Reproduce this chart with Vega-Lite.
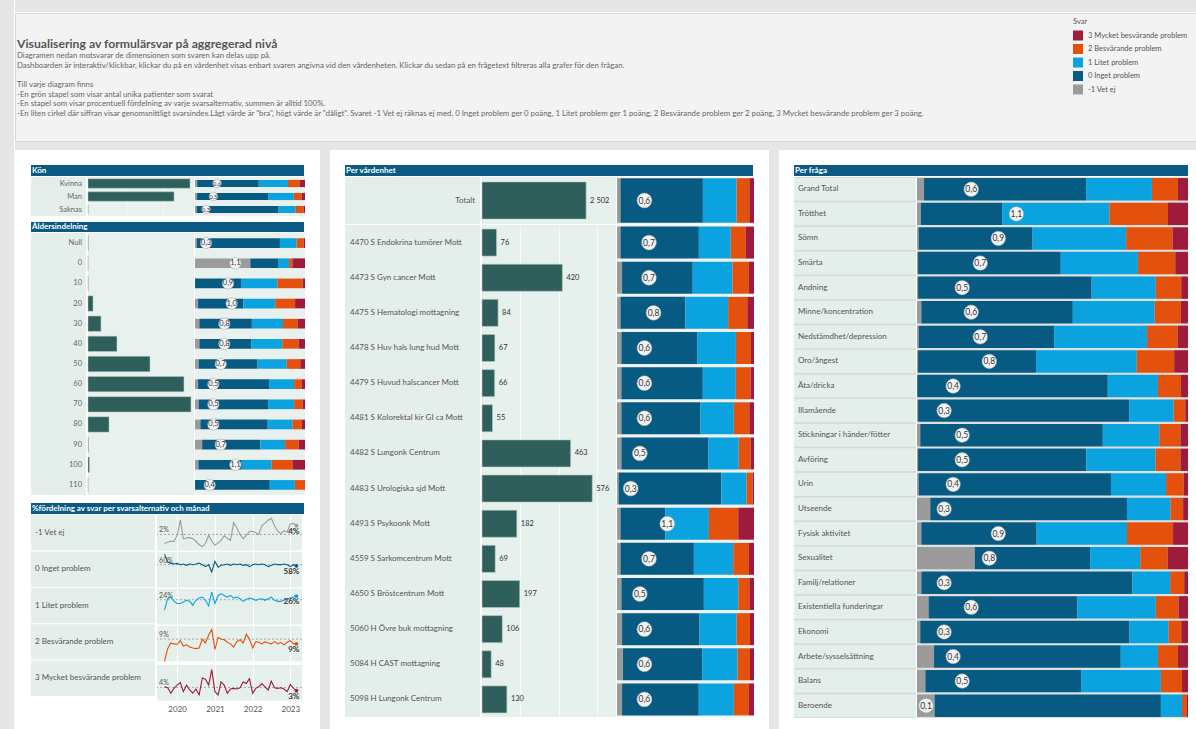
{
"$schema":"https://vega.github.io/schema/vega-lite/v6.json",
"padding":0,
"background":"white",
"spacing":0,
"config":{
 "font":"Lato",
 "view":{"stroke":null},
 "axis":{"domain":false,"ticks":false,"labelFont":"Lato"},
 "legend":{"orient":"none","legendX":1073,"legendY":18,"padding":0,"titleFontSize":7.5,"titleFontWeight":"normal","titleColor":"#555","titleFont":"Lato","labelFont":"Lato","labelFontSize":7.5,"labelColor":"#555","symbolType":"square","symbolSize":100,"symbolStrokeWidth":0,"symbolOpacity":1,"rowPadding":3.5,"titlePadding":5,"labelOffset":5},
 "locale":{"number":{"decimal":",","thousands":" ","grouping":[3],"currency":["","%"]}}
},
"datasets":{
 "head":[
  {"i":0,"t":"Visualisering av formulärsvar på aggregerad nivå"},
  {"i":1,"t":"Diagramen nedan motsvarar de dimensionen som svaren kan delas upp på."},
  {"i":2,"t":"Dashboarden är interaktiv/klickbar, klickar du på en vårdenhet visas enbart svaren angivna vid den vårdenheten. Klickar du sedan på en frågetext filtreras alla grafer för den frågan."},
  {"i":4,"t":"Till varje diagram finns"},
  {"i":5,"t":"-En grön stapel som visar antal unika patienter som svarat"},
  {"i":6,"t":"-En stapel som visar procentuell fördelning av varje svarsalternativ, summen är alltid 100%."},
  {"i":7,"t":"-En liten cirkel där siffran visar genomsnittligt svarsindex.Lågt värde är \"bra\", högt värde är \"dåligt\". Svaret -1 Vet ej räknas ej med, 0 Inget problem ger 0 poäng, 1 Litet problem ger 1 poäng, 2 Besvärande problem ger 2 poäng, 3 Mycket besvärande problem ger 3 poäng."}
 ],
 "kon":[
  {"g":"Kvinna","n":1357,"idx":0.6,"m1":0.02,"p0":0.56,"p1":0.265,"p2":0.108,"p3":0.047},
  {"g":"Man","n":1145,"idx":0.5,"m1":0.019,"p0":0.654,"p1":0.23,"p2":0.072,"p3":0.031},
  {"g":"Saknas","n":3,"idx":0.3,"m1":0.015,"p0":0.745,"p1":0.156,"p2":0.072,"p3":0.012}
 ],
 "alder":[
  {"g":"Null","n":3,"idx":0.3,"m1":0.018,"p0":0.754,"p1":0.151,"p2":0.065,"p3":0.012},
  {"g":"0","n":1,"idx":1.1,"m1":0.5,"p0":0.25,"p1":0.1,"p2":0.03,"p3":0.114},
  {"g":"10","n":2,"idx":0.9,"m1":0,"p0":0.418,"p1":0.33,"p2":0.23,"p3":0.022},
  {"g":"20","n":38,"idx":1.0,"m1":0.028,"p0":0.41,"p1":0.29,"p2":0.18,"p3":0.09},
  {"g":"30","n":98,"idx":0.8,"m1":0.04,"p0":0.477,"p1":0.283,"p2":0.132,"p3":0.068},
  {"g":"40","n":219,"idx":0.8,"m1":0.04,"p0":0.47,"p1":0.283,"p2":0.148,"p3":0.058},
  {"g":"50","n":469,"idx":0.7,"m1":0.034,"p0":0.535,"p1":0.265,"p2":0.123,"p3":0.043},
  {"g":"60","n":726,"idx":0.5,"m1":0.028,"p0":0.646,"p1":0.228,"p2":0.071,"p3":0.028},
  {"g":"70","n":779,"idx":0.5,"m1":0.034,"p0":0.63,"p1":0.237,"p2":0.077,"p3":0.022},
  {"g":"80","n":159,"idx":0.5,"m1":0.049,"p0":0.612,"p1":0.225,"p2":0.086,"p3":0.028},
  {"g":"90","n":4,"idx":0.7,"m1":0.065,"p0":0.53,"p1":0.225,"p2":0.123,"p3":0.058},
  {"g":"100","n":11,"idx":1.1,"m1":0.031,"p0":0.394,"p1":0.27,"p2":0.19,"p3":0.114},
  {"g":"110","n":1,"idx":0.4,"m1":0,"p0":0.68,"p1":0.228,"p2":0.092,"p3":0}
 ],
 "tot":[
  {"g":"Totalt","n":2502,"idx":0.6,"m1":0.025,"p0":0.602,"p1":0.246,"p2":0.093,"p3":0.034}
 ],
 "enh":[
  {"g":"4470 S Endokrina tumörer Mott","n":76,"idx":0.7,"m1":0.025,"p0":0.572,"p1":0.233,"p2":0.11,"p3":0.059},
  {"g":"4473 S Gyn cancer Mott","n":420,"idx":0.7,"m1":0.037,"p0":0.516,"p1":0.29,"p2":0.12,"p3":0.037},
  {"g":"4475 S Hematologi mottagning","n":84,"idx":0.8,"m1":0.025,"p0":0.474,"p1":0.312,"p2":0.14,"p3":0.049},
  {"g":"4478 S Huv hals lung hud Mott","n":67,"idx":0.6,"m1":0.032,"p0":0.553,"p1":0.283,"p2":0.11,"p3":0.022},
  {"g":"4479 S Huvud halscancer Mott","n":66,"idx":0.6,"m1":0.032,"p0":0.595,"p1":0.241,"p2":0.108,"p3":0.025},
  {"g":"4481 S Kolorektal kir GI ca Mott","n":55,"idx":0.6,"m1":0.032,"p0":0.577,"p1":0.243,"p2":0.113,"p3":0.034},
  {"g":"4482 S Lungonk Centrum","n":463,"idx":0.5,"m1":0.032,"p0":0.636,"p1":0.221,"p2":0.086,"p3":0.025},
  {"g":"4483 S Urologiska sjd Mott","n":576,"idx":0.3,"m1":0.012,"p0":0.749,"p1":0.184,"p2":0.044,"p3":0.01},
  {"g":"4493 S Psykoonk Mott","n":182,"idx":1.1,"m1":0.025,"p0":0.327,"p1":0.319,"p2":0.214,"p3":0.115},
  {"g":"4559 S Sarkomcentrum Mott","n":69,"idx":0.7,"m1":0.025,"p0":0.536,"p1":0.287,"p2":0.115,"p3":0.037},
  {"g":"4650 S Bröstcentrum Mott","n":197,"idx":0.5,"m1":0.032,"p0":0.602,"p1":0.251,"p2":0.081,"p3":0.034},
  {"g":"5060 H Övre buk mottagning","n":106,"idx":0.6,"m1":0.037,"p0":0.565,"p1":0.27,"p2":0.098,"p3":0.029},
  {"g":"5084 H CAST mottagning","n":48,"idx":0.6,"m1":0.044,"p0":0.577,"p1":0.258,"p2":0.091,"p3":0.029},
  {"g":"5098 H Lungonk Centrum","n":130,"idx":0.6,"m1":0.037,"p0":0.56,"p1":0.256,"p2":0.11,"p3":0.037}
 ],
 "fraga":[
  {"g":"Grand Total","idx":0.6,"m1":0.026,"p0":0.598,"p1":0.243,"p2":0.096,"p3":0.037},
  {"g":"Trötthet","idx":1.1,"m1":0.014,"p0":0.3,"p1":0.396,"p2":0.216,"p3":0.074},
  {"g":"Sömn","idx":0.9,"m1":0.006,"p0":0.42,"p1":0.345,"p2":0.171,"p3":0.057},
  {"g":"Smärta","idx":0.7,"m1":0.004,"p0":0.527,"p1":0.285,"p2":0.138,"p3":0.047},
  {"g":"Andning","idx":0.5,"m1":0.004,"p0":0.641,"p1":0.237,"p2":0.094,"p3":0.025},
  {"g":"Minne/koncentration","idx":0.6,"m1":0.016,"p0":0.559,"p1":0.302,"p2":0.097,"p3":0.026},
  {"g":"Nedstämdhet/depression","idx":0.7,"m1":0.006,"p0":0.5,"p1":0.343,"p2":0.113,"p3":0.038},
  {"g":"Oro/ångest","idx":0.8,"m1":0.004,"p0":0.435,"p1":0.372,"p2":0.138,"p3":0.051},
  {"g":"Äta/dricka","idx":0.4,"m1":0.001,"p0":0.703,"p1":0.185,"p2":0.085,"p3":0.026},
  {"g":"Illamående","idx":0.3,"m1":0.004,"p0":0.779,"p1":0.164,"p2":0.043,"p3":0.01},
  {"g":"Stickningar i händer/fötter","idx":0.5,"m1":0.012,"p0":0.673,"p1":0.208,"p2":0.078,"p3":0.028},
  {"g":"Avföring","idx":0.5,"m1":0.004,"p0":0.62,"p1":0.255,"p2":0.092,"p3":0.028},
  {"g":"Urin","idx":0.4,"m1":0.006,"p0":0.709,"p1":0.203,"p2":0.065,"p3":0.016},
  {"g":"Utseende","idx":0.3,"m1":0.049,"p0":0.725,"p1":0.16,"p2":0.047,"p3":0.018},
  {"g":"Fysisk aktivitet","idx":0.9,"m1":0.016,"p0":0.425,"p1":0.333,"p2":0.17,"p3":0.055},
  {"g":"Sexualitet","idx":0.8,"m1":0.213,"p0":0.425,"p1":0.185,"p2":0.101,"p3":0.075},
  {"g":"Familj/relationer","idx":0.3,"m1":0.016,"p0":0.779,"p1":0.139,"p2":0.052,"p3":0.014},
  {"g":"Existentiella funderingar","idx":0.6,"m1":0.043,"p0":0.549,"p1":0.29,"p2":0.084,"p3":0.035},
  {"g":"Ekonomi","idx":0.3,"m1":0.012,"p0":0.772,"p1":0.144,"p2":0.047,"p3":0.025},
  {"g":"Arbete/sysselsättning","idx":0.4,"m1":0.063,"p0":0.689,"p1":0.137,"p2":0.074,"p3":0.037},
  {"g":"Balans","idx":0.5,"m1":0.031,"p0":0.575,"p1":0.295,"p2":0.078,"p3":0.022},
  {"g":"Beroende","idx":0.1,"m1":0.065,"p0":0.835,"p1":0.078,"p2":0.018,"p3":0.004}
 ],
 "lines":[
  {"d":"2019-09-01","m1":1.16,"p0":70.8,"p1":19.1,"p2":5.55,"p3":3.8},
  {"d":"2019-10-01","m1":1.33,"p0":62.4,"p1":24.7,"p2":7.75,"p3":3.65},
  {"d":"2019-11-01","m1":1.51,"p0":61.0,"p1":25.5,"p2":8.74,"p3":2.8},
  {"d":"2019-12-01","m1":1.42,"p0":60.3,"p1":23.4,"p2":8.58,"p3":3.55},
  {"d":"2020-01-01","m1":2.27,"p0":61.0,"p1":22.3,"p2":8.47,"p3":4.05},
  {"d":"2020-02-01","m1":4.35,"p0":59.6,"p1":22.3,"p2":9.13,"p3":4.45},
  {"d":"2020-03-01","m1":1.82,"p0":60.3,"p1":23.1,"p2":8.19,"p3":3.05},
  {"d":"2020-04-01","m1":1.91,"p0":58.9,"p1":23.9,"p2":8.41,"p3":4.05},
  {"d":"2020-05-01","m1":1.96,"p0":60.3,"p1":23.4,"p2":8.03,"p3":3.3},
  {"d":"2020-06-01","m1":1.82,"p0":59.6,"p1":21.5,"p2":7.86,"p3":2.8},
  {"d":"2020-07-01","m1":1.47,"p0":60.3,"p1":23.9,"p2":7.75,"p3":3.45},
  {"d":"2020-08-01","m1":1.02,"p0":61.4,"p1":25.0,"p2":7.86,"p3":2.55},
  {"d":"2020-09-01","m1":0.71,"p0":59.6,"p1":25.5,"p2":9.4,"p3":5.15},
  {"d":"2020-10-01","m1":1.16,"p0":57.5,"p1":23.9,"p2":8.74,"p3":4.95},
  {"d":"2020-11-01","m1":2.27,"p0":59.6,"p1":21.2,"p2":10.06,"p3":4.05},
  {"d":"2020-12-01","m1":1.51,"p0":51.9,"p1":27.9,"p2":11.05,"p3":6.45},
  {"d":"2021-01-01","m1":0.93,"p0":63.1,"p1":22.3,"p2":7.64,"p3":3.05},
  {"d":"2021-02-01","m1":1.25,"p0":56.8,"p1":26.3,"p2":9.68,"p3":2.55},
  {"d":"2021-03-01","m1":1.6,"p0":58.9,"p1":27.1,"p2":9.4,"p3":4.55},
  {"d":"2021-04-01","m1":2.22,"p0":59.6,"p1":26.3,"p2":9.29,"p3":4.05},
  {"d":"2021-05-01","m1":1.87,"p0":60.3,"p1":25.5,"p2":8.85,"p3":2.8},
  {"d":"2021-06-01","m1":1.6,"p0":58.9,"p1":26.3,"p2":8.58,"p3":3.45},
  {"d":"2021-07-01","m1":4.04,"p0":60.3,"p1":25.0,"p2":8.03,"p3":3.55},
  {"d":"2021-08-01","m1":3.29,"p0":59.6,"p1":25.5,"p2":8.96,"p3":3.45},
  {"d":"2021-09-01","m1":2.4,"p0":60.3,"p1":24.7,"p2":9.29,"p3":3.65},
  {"d":"2021-10-01","m1":1.82,"p0":58.9,"p1":23.4,"p2":8.74,"p3":4.55},
  {"d":"2021-11-01","m1":2.27,"p0":59.6,"p1":24.4,"p2":10.23,"p3":4.3},
  {"d":"2021-12-01","m1":2.8,"p0":57.5,"p1":25.0,"p2":9.4,"p3":5.05},
  {"d":"2022-01-01","m1":2.84,"p0":59.6,"p1":24.7,"p2":7.86,"p3":2.8},
  {"d":"2022-02-01","m1":2.62,"p0":60.3,"p1":23.9,"p2":8.96,"p3":3.55},
  {"d":"2022-03-01","m1":2.4,"p0":59.6,"p1":24.4,"p2":8.85,"p3":3.8},
  {"d":"2022-04-01","m1":3.6,"p0":60.3,"p1":24.7,"p2":8.58,"p3":4.3},
  {"d":"2022-05-01","m1":3.95,"p0":59.6,"p1":23.9,"p2":8.96,"p3":3.8},
  {"d":"2022-06-01","m1":4.35,"p0":57.5,"p1":24.7,"p2":8.74,"p3":3.3},
  {"d":"2022-07-01","m1":4.62,"p0":58.9,"p1":25.5,"p2":8.58,"p3":4.65},
  {"d":"2022-08-01","m1":3.6,"p0":60.3,"p1":23.9,"p2":8.96,"p3":3.65},
  {"d":"2022-09-01","m1":2.84,"p0":59.6,"p1":23.4,"p2":8.58,"p3":3.55},
  {"d":"2022-10-01","m1":2.49,"p0":59.6,"p1":23.4,"p2":8.85,"p3":3.65},
  {"d":"2022-11-01","m1":2.93,"p0":60.3,"p1":23.9,"p2":8.41,"p3":3.45},
  {"d":"2022-12-01","m1":2.71,"p0":59.6,"p1":24.7,"p2":8.85,"p3":3.05},
  {"d":"2023-01-01","m1":3.82,"p0":57.5,"p1":25.0,"p2":9.13,"p3":4.15},
  {"d":"2023-02-01","m1":3.91,"p0":59.6,"p1":25.5,"p2":8.58,"p3":3.55},
  {"d":"2023-03-01","t":"end","m1":3.6,"p0":58.4,"p1":26.0,"p2":8.58,"p3":3.2},
  {"d":"2019-07-10","t":"ref","m1":2.4,"p0":59.6,"p1":24.2,"p2":9.4,"p3":3.7},
  {"d":"2021-01-01","t":"lo","m1":0.22,"p0":35.1,"p1":12.04,"p2":5.66,"p3":1.7},
  {"d":"2021-01-01","t":"hi","m1":5.06,"p0":73.25,"p1":29.48,"p2":11.66,"p3":7.15}
 ]
},
"hconcat":[
 {"width":14,"height":729,"data":{"values":[{}]},"mark":{"type":"text","text":"","fontSize":0},"view":{"fill":"#e6e6e6","stroke":null}},
 {"spacing":0,"vconcat":[
  {"width":1182,"height":12,"data":{"values":[{}]},"mark":{"type":"text","text":"","fontSize":0},"view":{"fill":"#e6e6e6","stroke":null}},
  {"width":1182,"height":128,"data":{"name":"head"},"view":{"fill":"#f3f3f3","stroke":"#d6d6d6"},
   "encoding":{"x":{"datum":0,"type":"quantitative","scale":{"domain":[0,1]},"axis":null},
     "y":{"field":"i","type":"quantitative","scale":{"domain":[0,7],"range":[33.3,101]},"axis":null},
     "text":{"field":"t"}},
   "layer":[
    {"transform":[{"filter":"datum.i == 0"}],"mark":{"type":"text","align":"left","dx":2,"dy":-2,"fontSize":12.2,"fontWeight":"bold","color":"#555"}},
    {"transform":[{"filter":"datum.i > 0"}],"mark":{"type":"text","align":"left","dx":2,"fontSize":7.8,"color":"#666"}}
   ]},
  {"width":1182,"height":8,"data":{"values":[{}]},"mark":{"type":"text","text":"","fontSize":0},"view":{"fill":"#e6e6e6","stroke":null}},
  {"spacing":15,"hconcat":[
   {"width":1,"height":1,"data":{"values":[{}]},"mark":{"type":"text","text":"","fontSize":0}},
   {"spacing":1,"vconcat":[
    {"width":273,"height":14,"data":{"values":[{}]},"mark":{"type":"text","text":"","fontSize":0}},
    {"width":273,"height":11,"data":{"values":[{"t":"Kön"}]},"view":{"fill":"#0b5a84","stroke":null},"mark":{"type":"text","align":"left","dx":1,"fontSize":8,"fontWeight":"bold","color":"white"},"encoding":{"x":{"datum":0,"type":"quantitative","scale":{"domain":[0,1]},"axis":null},"text":{"field":"t"}}},
    {"spacing":1,"hconcat":[
     {"width":55,"height":39,"data":{"name":"kon"},"view":{"fill":"#e4eeeb","stroke":null},
      "mark":{"type":"text","align":"right","dx":-4,"fontSize":7.5,"color":"#666"},
      "encoding":{"y":{"field":"g","type":"nominal","sort":null,"axis":null},"x":{"datum":1,"type":"quantitative","scale":{"domain":[0,1]},"axis":null},"text":{"field":"g"}}},
     {"width":106,"height":39,"data":{"name":"kon"},"view":{"fill":"#e8f1ee","stroke":null},
      "mark":{"type":"bar","color":"#2f5f5a","height":{"band":0.72},"stroke":"#b8cbc7","strokeWidth":0.5},
      "encoding":{"y":{"field":"g","type":"nominal","sort":null,"axis":null,"scale":{"paddingInner":0,"paddingOuter":0}},
        "x":{"field":"n","type":"quantitative","scale":{"domain":[0,1410]},"axis":{"grid":true,"gridColor":"#f6f9f8","values":[500,1000],"labels":false,"title":null}}}},
     {"width":110,"height":39,"data":{"name":"kon"},"view":{"fill":"#e8f1ee","stroke":null},
      "encoding":{"y":{"field":"g","type":"nominal","sort":null,"axis":null,"scale":{"paddingInner":0,"paddingOuter":0}}},
      "layer":[
       {"transform":[{"fold":["m1","p0","p1","p2","p3"],"as":["svar","p"]}],"mark":{"type":"bar","height":{"band":0.55}},
        "encoding":{"x":{"field":"p","type":"quantitative","stack":"normalize","axis":null},
         "color":{"field":"svar","type":"nominal","title":"Svar","scale":{"domain":["p3","p2","p1","p0","m1"],"range":["#9e1b3b","#e3510d","#0aa3df","#075b83","#9b9b9b"]},"legend":{"labelExpr":"datum.value=='p3'?'3 Mycket besvärande problem':datum.value=='p2'?'2 Besvärande problem':datum.value=='p1'?'1 Litet problem':datum.value=='p0'?'0 Inget problem':'-1 Vet ej'"}},
         "order":{"field":"svar","type":"ordinal","sort":"ascending"}}},
       {"mark":{"type":"circle","size":75,"color":"#f3f3f3","opacity":1,"stroke":"#a0a8a6","strokeWidth":0.5},"encoding":{"x":{"field":"idx","type":"quantitative","scale":{"domain":[0,3]},"axis":null}}},
       {"mark":{"type":"text","fontSize":6,"color":"#333"},"encoding":{"x":{"field":"idx","type":"quantitative","scale":{"domain":[0,3]},"axis":null},"text":{"field":"idx","type":"quantitative","format":".1f"}}}
      ],
      "resolve":{"scale":{"x":"independent"}}}
    ]},
    {"width":273,"height":4,"data":{"values":[{}]},"mark":{"type":"text","text":"","fontSize":0}},
    {"width":273,"height":10,"data":{"values":[{"t":"Åldersindelning"}]},"view":{"fill":"#0b5a84","stroke":null},"mark":{"type":"text","align":"left","dx":1,"fontSize":8,"fontWeight":"bold","color":"white"},"encoding":{"x":{"datum":0,"type":"quantitative","scale":{"domain":[0,1]},"axis":null},"text":{"field":"t"}}},
    {"spacing":1,"hconcat":[
     {"width":55,"height":262,"data":{"name":"alder"},"view":{"fill":"#e4eeeb","stroke":null},
      "mark":{"type":"text","align":"right","dx":-4,"fontSize":7.5,"color":"#666"},
      "encoding":{"y":{"field":"g","type":"nominal","sort":null,"axis":null},"x":{"datum":1,"type":"quantitative","scale":{"domain":[0,1]},"axis":null},"text":{"field":"g"}}},
     {"width":106,"height":262,"data":{"name":"alder"},"view":{"fill":"#e8f1ee","stroke":null},
      "mark":{"type":"bar","color":"#2f5f5a","height":{"band":0.76},"stroke":"#b8cbc7","strokeWidth":0.5},
      "encoding":{"y":{"field":"g","type":"nominal","sort":null,"axis":null,"scale":{"paddingInner":0,"paddingOuter":0}},
        "x":{"field":"n","type":"quantitative","scale":{"domain":[0,802]},"axis":null}}},
     {"width":110,"height":262,"data":{"name":"alder"},"view":{"fill":"#e8f1ee","stroke":null},
      "encoding":{"y":{"field":"g","type":"nominal","sort":null,"axis":null,"scale":{"paddingInner":0,"paddingOuter":0}}},
      "layer":[
       {"transform":[{"fold":["m1","p0","p1","p2","p3"],"as":["svar","p"]}],"mark":{"type":"bar","height":{"band":0.48}},
        "encoding":{"x":{"field":"p","type":"quantitative","stack":"normalize","axis":null},
         "color":{"field":"svar","type":"nominal","title":"Svar","scale":{"domain":["p3","p2","p1","p0","m1"],"range":["#9e1b3b","#e3510d","#0aa3df","#075b83","#9b9b9b"]},"legend":{"labelExpr":"datum.value=='p3'?'3 Mycket besvärande problem':datum.value=='p2'?'2 Besvärande problem':datum.value=='p1'?'1 Litet problem':datum.value=='p0'?'0 Inget problem':'-1 Vet ej'"}},
         "order":{"field":"svar","type":"ordinal","sort":"ascending"}}},
       {"mark":{"type":"circle","size":130,"color":"#f3f3f3","opacity":1,"stroke":"#a0a8a6","strokeWidth":0.5},"encoding":{"x":{"field":"idx","type":"quantitative","scale":{"domain":[0,3]},"axis":null}}},
       {"mark":{"type":"text","fontSize":7.5,"color":"#333"},"encoding":{"x":{"field":"idx","type":"quantitative","scale":{"domain":[0,3]},"axis":null},"text":{"field":"idx","type":"quantitative","format":".1f"}}}
      ],
      "resolve":{"scale":{"x":"independent"}}}
    ]},
    {"width":273,"height":6,"data":{"values":[{}]},"mark":{"type":"text","text":"","fontSize":0}},
    {"width":273,"height":11,"data":{"values":[{"t":"%fördelning av svar per svarsalternativ och månad"}]},"view":{"fill":"#0b5a84","stroke":null},"mark":{"type":"text","align":"left","dx":1,"fontSize":8,"fontWeight":"bold","color":"white"},"encoding":{"x":{"datum":0,"type":"quantitative","scale":{"domain":[0,1]},"axis":null},"text":{"field":"t"}}},
    {"spacing":1,"hconcat":[
     {"width":124,"height":181,"data":{"values":[{"g":"-1 Vet ej"},{"g":"0 Inget problem"},{"g":"1 Litet problem"},{"g":"2 Besvärande problem"},{"g":"3 Mycket besvärande problem"}]},
      "encoding":{"y":{"field":"g","type":"nominal","sort":null,"axis":null,"scale":{"paddingInner":0.03,"paddingOuter":0}}},
      "layer":[
       {"mark":{"type":"rect","color":"#e4eeeb"}},
       {"mark":{"type":"text","align":"left","dx":4,"fontSize":8,"color":"#555"},"encoding":{"x":{"datum":0,"type":"quantitative","scale":{"domain":[0,1]},"axis":null},"text":{"field":"g"}}}
      ]},
     {"data":{"name":"lines"},
      "transform":[{"fold":["m1","p0","p1","p2","p3"],"as":["svar","v"]}],
      "facet":{"row":{"field":"svar","type":"nominal","header":null}},
      "spacing":1,
      "resolve":{"scale":{"y":"independent"}},
      "spec":{"width":145,"height":35.4,"view":{"fill":"#e5efec","stroke":null},
       "layer":[
        {"transform":[{"filter":"datum.t=='lo'||datum.t=='hi'"}],"mark":{"type":"point","opacity":0,"size":0},
         "encoding":{"x":{"field":"d","type":"temporal","scale":{"domain":[{"year":2019,"month":6,"date":20},{"year":2023,"month":4,"date":24}]},"axis":{"title":null,"format":"%Y","tickCount":{"interval":"year","step":1},"grid":true,"gridColor":"#ffffff","labelFontSize":8,"labelColor":"#555","labelPadding":4}},
          "y":{"field":"v","type":"quantitative","scale":{"zero":false,"nice":false},"axis":null}}},
        {"transform":[{"filter":"datum.t=='ref'"}],"mark":{"type":"rule","strokeDash":[2,2],"color":"#8a8a8a","strokeWidth":0.7},
         "encoding":{"y":{"field":"v","type":"quantitative","scale":{"zero":false,"nice":false},"axis":null}}},
        {"transform":[{"filter":"!datum.t || datum.t=='end'"}],"mark":{"type":"line","strokeWidth":1.1},
         "encoding":{"x":{"field":"d","type":"temporal","scale":{"domain":[{"year":2019,"month":6,"date":20},{"year":2023,"month":4,"date":24}]},"axis":{"title":null,"format":"%Y","tickCount":{"interval":"year","step":1},"grid":true,"gridColor":"#ffffff","labelFontSize":8,"labelColor":"#555","labelPadding":4}},
          "y":{"field":"v","type":"quantitative","scale":{"zero":false,"nice":false},"axis":null},
          "stroke":{"field":"svar","type":"nominal","scale":{"domain":["p3","p2","p1","p0","m1"],"range":["#9e1b3b","#e3510d","#0aa3df","#075b83","#9b9b9b"]},"legend":null}}},
        {"transform":[{"filter":"datum.t=='end'"}],"mark":{"type":"point","filled":true,"size":14,"opacity":1},
         "encoding":{"x":{"field":"d","type":"temporal"},
          "y":{"field":"v","type":"quantitative","scale":{"zero":false,"nice":false},"axis":null},
          "fill":{"field":"svar","type":"nominal","scale":{"domain":["p3","p2","p1","p0","m1"],"range":["#9e1b3b","#e3510d","#0aa3df","#075b83","#9b9b9b"]},"legend":null}}},
        {"transform":[{"filter":"datum.t=='ref'"}],"mark":{"type":"text","align":"left","baseline":"bottom","dy":-1,"fontSize":7,"color":"#555"},
         "encoding":{"x":{"field":"d","type":"temporal"},"y":{"field":"v","type":"quantitative","scale":{"zero":false,"nice":false},"axis":null},"text":{"field":"v","type":"quantitative","format":"$.0f"}}},
        {"transform":[{"filter":"datum.t=='end'"}],"mark":{"type":"text","align":"right","baseline":"top","dx":3,"dy":2,"fontSize":8,"fontWeight":"bold","color":"#333"},
         "encoding":{"x":{"field":"d","type":"temporal"},"y":{"field":"v","type":"quantitative","scale":{"zero":false,"nice":false},"axis":null},"text":{"field":"v","type":"quantitative","format":"$.0f"}}}
       ]}}
    ]}
   ]},
   {"width":10,"height":581,"data":{"values":[{}]},"mark":{"type":"text","text":"","fontSize":0},"view":{"fill":"#e6e6e6","stroke":null}},
   {"spacing":1,"vconcat":[
    {"width":408,"height":14,"data":{"values":[{}]},"mark":{"type":"text","text":"","fontSize":0}},
    {"width":408,"height":11,"data":{"values":[{"t":"Per vårdenhet"}]},"view":{"fill":"#0b5a84","stroke":null},"mark":{"type":"text","align":"left","dx":1,"fontSize":8,"fontWeight":"bold","color":"white"},"encoding":{"x":{"datum":0,"type":"quantitative","scale":{"domain":[0,1]},"axis":null},"text":{"field":"t"}}},
    {"spacing":1,"hconcat":[
     {"width":135,"height":47,"data":{"name":"tot"},"view":{"fill":"#e4eeeb","stroke":null},
      "mark":{"type":"text","align":"right","dx":-5,"fontSize":8,"color":"#555"},
      "encoding":{"y":{"field":"g","type":"nominal","axis":null},"x":{"datum":1,"type":"quantitative","scale":{"domain":[0,1]},"axis":null},"text":{"field":"g"}}},
     {"width":134,"height":47,"data":{"name":"tot"},"view":{"fill":"#e6f0ed","stroke":null},
      "encoding":{"y":{"field":"g","type":"nominal","axis":null,"scale":{"paddingInner":0,"paddingOuter":0}},
       "x":{"field":"n","type":"quantitative","scale":{"domain":[0,3220]},"axis":null}},
      "layer":[
       {"mark":{"type":"bar","color":"#2f5f5a","height":{"band":0.79},"stroke":"#b8cbc7","strokeWidth":0.6}},
       {"mark":{"type":"text","align":"left","dx":4,"fontSize":7.5,"color":"#333"},"encoding":{"text":{"field":"n","type":"quantitative","format":",d"}}}
      ]},
     {"width":137,"height":47,"data":{"name":"tot"},"view":{"fill":"#eef3f2","stroke":null},
      "encoding":{"y":{"field":"g","type":"nominal","sort":null,"axis":null,"scale":{"paddingInner":0,"paddingOuter":0}}},
      "layer":[
       {"transform":[{"fold":["m1","p0","p1","p2","p3"],"as":["svar","p"]}],"mark":{"type":"bar","height":{"band":0.95}},
        "encoding":{"x":{"field":"p","type":"quantitative","stack":"normalize","axis":null},
         "color":{"field":"svar","type":"nominal","title":"Svar","scale":{"domain":["p3","p2","p1","p0","m1"],"range":["#9e1b3b","#e3510d","#0aa3df","#075b83","#9b9b9b"]},"legend":{"labelExpr":"datum.value=='p3'?'3 Mycket besvärande problem':datum.value=='p2'?'2 Besvärande problem':datum.value=='p1'?'1 Litet problem':datum.value=='p0'?'0 Inget problem':'-1 Vet ej'"}},
         "order":{"field":"svar","type":"ordinal","sort":"ascending"}}},
       {"mark":{"type":"circle","size":220,"color":"#f3f3f3","opacity":1,"stroke":"#a0a8a6","strokeWidth":0.5},"encoding":{"x":{"field":"idx","type":"quantitative","scale":{"domain":[0,3]},"axis":null}}},
       {"mark":{"type":"text","fontSize":8.5,"color":"#333"},"encoding":{"x":{"field":"idx","type":"quantitative","scale":{"domain":[0,3]},"axis":null},"text":{"field":"idx","type":"quantitative","format":".1f"}}}
      ],
      "resolve":{"scale":{"x":"independent"}}}
    ]},
    {"spacing":1,"hconcat":[
     {"width":135,"height":492,"data":{"name":"enh"},"view":{"fill":"#e4eeeb","stroke":null},
      "mark":{"type":"text","align":"left","dx":5,"fontSize":8,"color":"#555"},
      "encoding":{"y":{"field":"g","type":"nominal","sort":null,"axis":null},"x":{"datum":0,"type":"quantitative","scale":{"domain":[0,1]},"axis":null},"text":{"field":"g"}}},
     {"width":134,"height":492,"data":{"name":"enh"},"view":{"fill":"#e6f0ed","stroke":null},
      "encoding":{"y":{"field":"g","type":"nominal","sort":null,"axis":null,"scale":{"paddingInner":0,"paddingOuter":0}},
       "x":{"field":"n","type":"quantitative","scale":{"domain":[0,700]},"axis":{"grid":true,"gridColor":"#f6faf9","values":[200,400,600],"labels":false,"title":null}}},
      "layer":[
       {"mark":{"type":"bar","color":"#2f5f5a","height":{"band":0.77},"stroke":"#b8cbc7","strokeWidth":0.6}},
       {"mark":{"type":"text","align":"left","dx":4,"fontSize":7.5,"color":"#333"},"encoding":{"text":{"field":"n","type":"quantitative","format":",d"}}}
      ]},
     {"width":137,"height":492,"data":{"name":"enh"},"view":{"fill":"#eef3f2","stroke":null},
      "encoding":{"y":{"field":"g","type":"nominal","sort":null,"axis":null,"scale":{"paddingInner":0,"paddingOuter":0}}},
      "layer":[
       {"transform":[{"fold":["m1","p0","p1","p2","p3"],"as":["svar","p"]}],"mark":{"type":"bar","height":{"band":0.91}},
        "encoding":{"x":{"field":"p","type":"quantitative","stack":"normalize","axis":null},
         "color":{"field":"svar","type":"nominal","title":"Svar","scale":{"domain":["p3","p2","p1","p0","m1"],"range":["#9e1b3b","#e3510d","#0aa3df","#075b83","#9b9b9b"]},"legend":{"labelExpr":"datum.value=='p3'?'3 Mycket besvärande problem':datum.value=='p2'?'2 Besvärande problem':datum.value=='p1'?'1 Litet problem':datum.value=='p0'?'0 Inget problem':'-1 Vet ej'"}},
         "order":{"field":"svar","type":"ordinal","sort":"ascending"}}},
       {"mark":{"type":"circle","size":220,"color":"#f3f3f3","opacity":1,"stroke":"#a0a8a6","strokeWidth":0.5},"encoding":{"x":{"field":"idx","type":"quantitative","scale":{"domain":[0,3]},"axis":null}}},
       {"mark":{"type":"text","fontSize":8.5,"color":"#333"},"encoding":{"x":{"field":"idx","type":"quantitative","scale":{"domain":[0,3]},"axis":null},"text":{"field":"idx","type":"quantitative","format":".1f"}}}
      ],
      "resolve":{"scale":{"x":"independent"}}}
    ]}
   ]},
   {"width":10,"height":581,"data":{"values":[{}]},"mark":{"type":"text","text":"","fontSize":0},"view":{"fill":"#e6e6e6","stroke":null}},
   {"spacing":1,"vconcat":[
    {"width":394,"height":14,"data":{"values":[{}]},"mark":{"type":"text","text":"","fontSize":0}},
    {"width":394,"height":11,"data":{"values":[{"t":"Per fråga"}]},"view":{"fill":"#0b5a84","stroke":null},"mark":{"type":"text","align":"left","dx":1,"fontSize":8,"fontWeight":"bold","color":"white"},"encoding":{"x":{"datum":0,"type":"quantitative","scale":{"domain":[0,1]},"axis":null},"text":{"field":"t"}}},
    {"spacing":1,"hconcat":[
     {"width":122,"height":541,"data":{"name":"fraga"},"view":{"fill":"#d2d9d7","stroke":null},
      "encoding":{"y":{"field":"g","type":"nominal","sort":null,"axis":null,"scale":{"paddingInner":0.06,"paddingOuter":0.03}}},
      "layer":[
       {"mark":{"type":"rect","color":"#e4eeeb"}},
       {"mark":{"type":"text","align":"left","dx":4,"fontSize":8,"color":"#555"},"encoding":{"x":{"datum":0,"type":"quantitative","scale":{"domain":[0,1]},"axis":null},"text":{"field":"g"}}}
      ]},
     {"width":271,"height":541,"data":{"name":"fraga"},"view":{"fill":"#dde2e0","stroke":null},
      "encoding":{"y":{"field":"g","type":"nominal","sort":null,"axis":null,"scale":{"paddingInner":0.06,"paddingOuter":0.03}}},
      "layer":[
       {"transform":[{"fold":["m1","p0","p1","p2","p3"],"as":["svar","p"]}],"mark":{"type":"bar","height":{"band":0.97}},
        "encoding":{"x":{"field":"p","type":"quantitative","stack":"normalize","axis":null},
         "color":{"field":"svar","type":"nominal","title":"Svar","scale":{"domain":["p3","p2","p1","p0","m1"],"range":["#9e1b3b","#e3510d","#0aa3df","#075b83","#9b9b9b"]},"legend":{"labelExpr":"datum.value=='p3'?'3 Mycket besvärande problem':datum.value=='p2'?'2 Besvärande problem':datum.value=='p1'?'1 Litet problem':datum.value=='p0'?'0 Inget problem':'-1 Vet ej'"}},
         "order":{"field":"svar","type":"ordinal","sort":"ascending"}}},
       {"mark":{"type":"circle","size":210,"color":"#f3f3f3","opacity":1,"stroke":"#a0a8a6","strokeWidth":0.5},"encoding":{"x":{"field":"idx","type":"quantitative","scale":{"domain":[0,3]},"axis":null}}},
       {"mark":{"type":"text","fontSize":8.5,"color":"#333"},"encoding":{"x":{"field":"idx","type":"quantitative","scale":{"domain":[0,3]},"axis":null},"text":{"field":"idx","type":"quantitative","format":".1f"}}}
      ],
      "resolve":{"scale":{"x":"independent"}}}
    ]}
   ]}
  ]}
 ]}
]
}
